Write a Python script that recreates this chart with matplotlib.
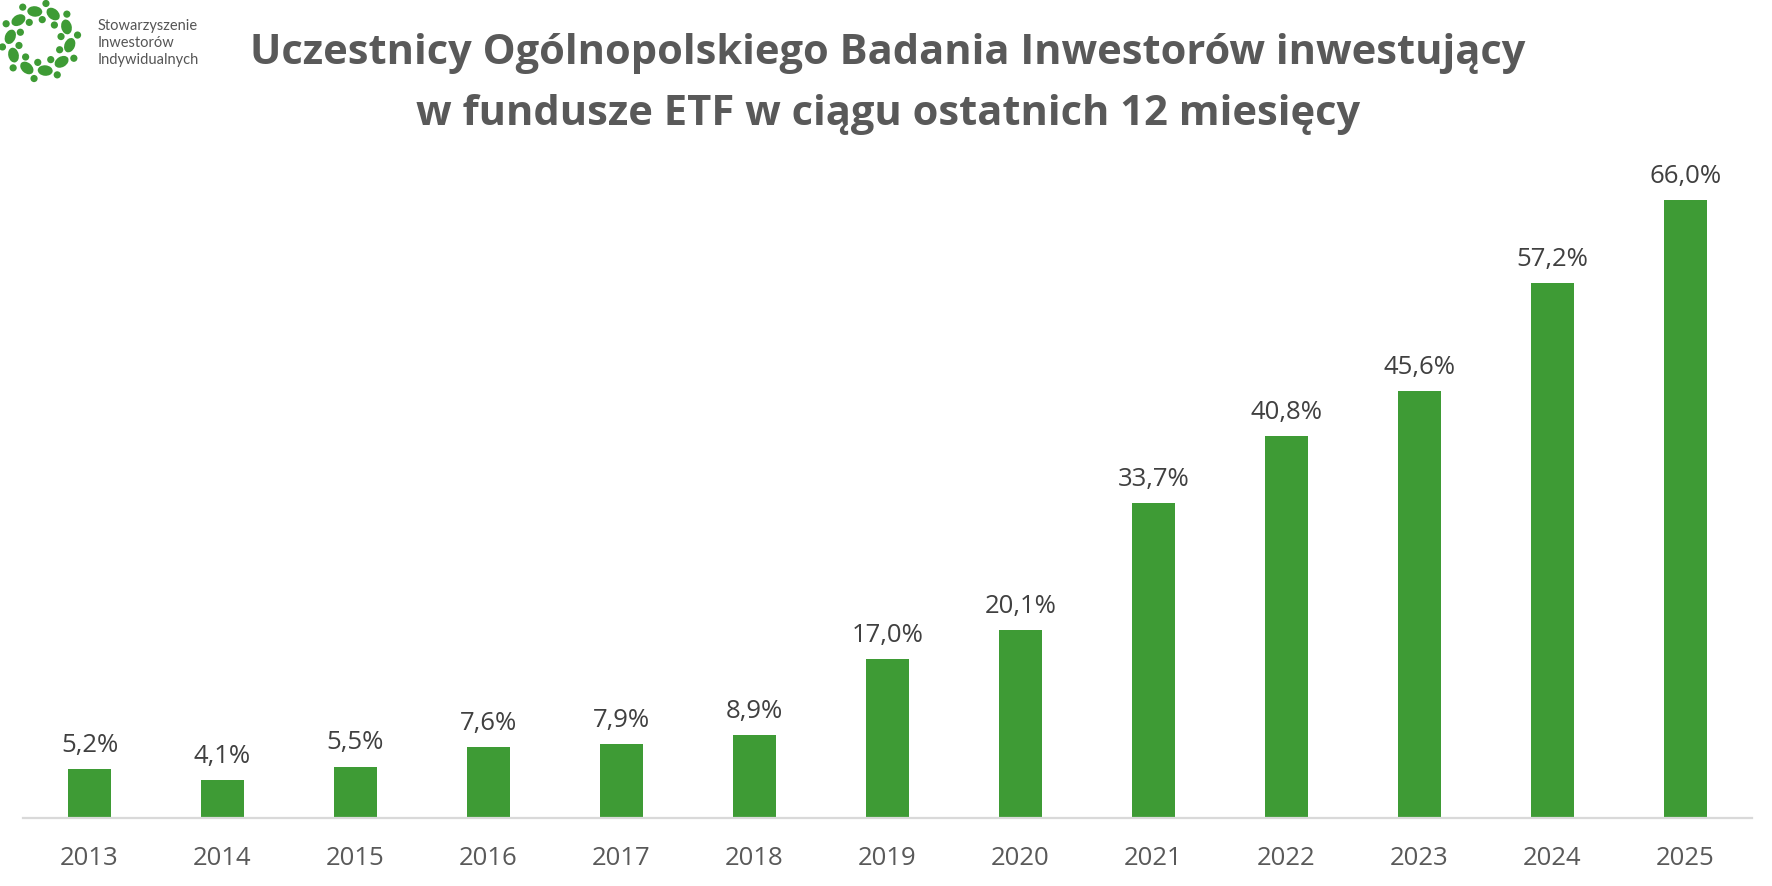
import numpy as np
import matplotlib
matplotlib.use("Agg")
import matplotlib.pyplot as plt
from matplotlib.patches import Circle, Ellipse

years = ["2013", "2014", "2015", "2016", "2017", "2018", "2019",
         "2020", "2021", "2022", "2023", "2024", "2025"]
values = [5.2, 4.1, 5.5, 7.6, 7.9, 8.9, 17.0, 20.1, 33.7, 40.8, 45.6, 57.2, 66.0]
title_lines = ["Uczestnicy Ogólnopolskiego Badania Inwestorów inwestujący",
               "w fundusze ETF w ciągu ostatnich 12 miesięcy"]
logo_text = ["Stowarzyszenie", "Inwestorów", "Indywidualnych"]

W, H = 1772, 886
fig = plt.figure(figsize=(W / 100, H / 100), dpi=100)
fig.patch.set_facecolor("white")

GREEN = "#3E9B35"
FONT = "Open Sans"

ax = fig.add_axes([23 / W, (H - 818) / H, 1729 / W, (818 - 163) / H])
x = np.arange(len(years))
ax.bar(x, values, width=0.33, color=GREEN, zorder=2)
ax.set_xlim(-0.5, len(years) - 0.5)
ax.set_ylim(0, 70)
for s in ["top", "right", "left"]:
    ax.spines[s].set_visible(False)
ax.spines["bottom"].set_color("#D9D9D9")
ax.spines["bottom"].set_linewidth(1.6)
ax.set_yticks([])
ax.set_xticks(x)
ax.set_xticklabels(years, fontsize=18.5, color="#595959", family=FONT)
ax.tick_params(axis="x", length=0, pad=20)

for xi, v in zip(x, values):
    ax.annotate(f"{v:.1f}".replace(".", ",") + "%", (xi, v), xytext=(0, 8),
                textcoords="offset points", ha="center", va="bottom",
                fontsize=18.5, color="#404040", family=FONT)

# title
fig.text(888 / W, 1 - 64 / H, title_lines[0], ha="center", va="baseline",
         fontsize=30, fontweight="bold", color="#595959", family=FONT)
fig.text(888 / W, 1 - 125 / H, title_lines[1], ha="center", va="baseline",
         fontsize=30, fontweight="bold", color="#595959", family=FONT)

# logo
lax = fig.add_axes([0, 1 - 90 / H, 90 / W, 90 / H])
lax.set_xlim(0, 90)
lax.set_ylim(90, 0)
lax.axis("off")
cx, cy = 40, 41
n = 10
for i in range(n):
    th = np.deg2rad(i * 360 / n + 8)
    bx, by = cx + 30 * np.cos(th), cy + 30 * np.sin(th)
    lax.add_patch(Ellipse((bx, by), 15, 10.5, angle=np.rad2deg(th) + 105,
                          color=GREEN, lw=0))
    t2 = th + np.deg2rad(16)
    lax.add_patch(Circle((cx + 21.5 * np.cos(t2), cy + 21.5 * np.sin(t2)), 3.6,
                         color=GREEN, lw=0))
    t3 = th - np.deg2rad(17)
    lax.add_patch(Circle((cx + 38 * np.cos(t3), cy + 38 * np.sin(t3)), 3.6,
                         color=GREEN, lw=0))

for i, t in enumerate(logo_text):
    fig.text(98 / W, 1 - (30 + 17 * i) / H, t, ha="left", va="baseline",
             fontsize=10.5, color="#555555", family="Lato")

fig.savefig("out.png", dpi=100, facecolor="white")
